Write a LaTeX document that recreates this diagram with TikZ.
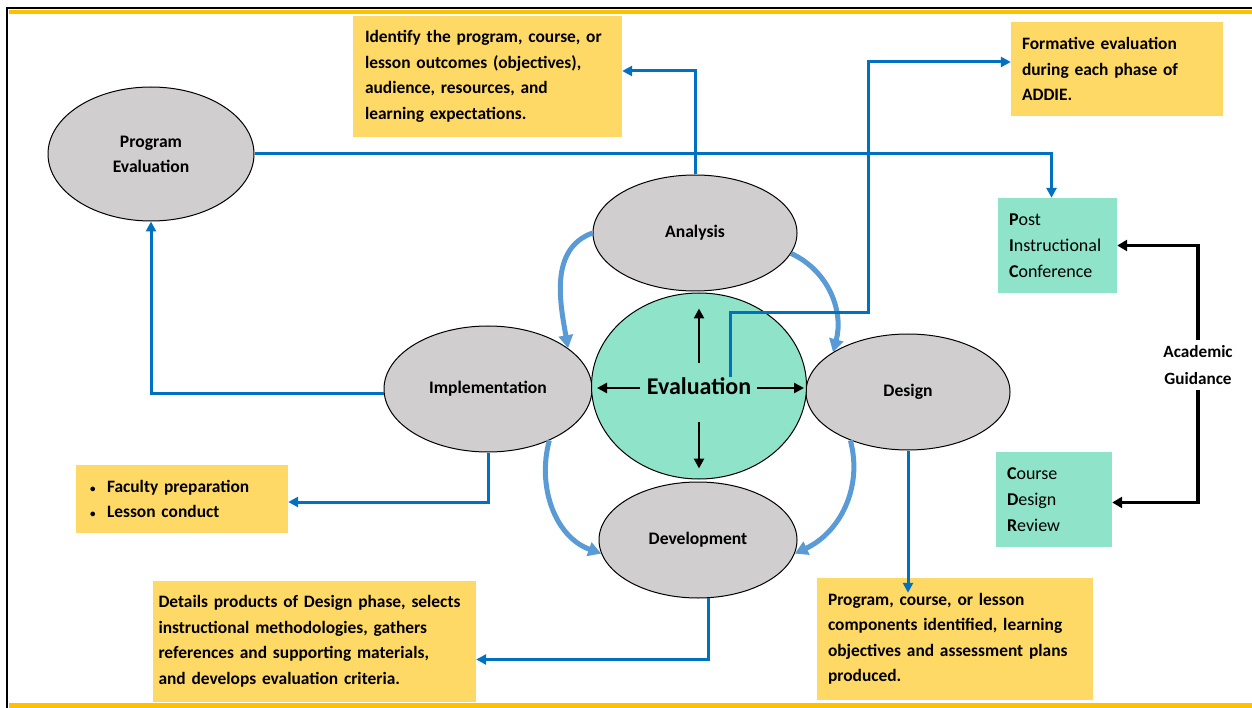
\documentclass[tikz,border=0pt]{standalone}
\usepackage{fontspec}
\setmainfont{Carlito}
\usetikzlibrary{shapes.geometric,arrows.meta}

\definecolor{phasegray}{HTML}{D0CECE}
\definecolor{evalgreen}{HTML}{8EE3C8}
\definecolor{noteyellow}{HTML}{FFD966}
\definecolor{linkblue}{HTML}{0070C0}
\definecolor{cycleblue}{HTML}{5B9BD5}
\definecolor{framegold}{HTML}{FFC000}

\begin{document}
\begin{tikzpicture}[x=1pt,y=-1pt,
    link/.style={draw=linkblue,line width=3pt,-{Triangle[length=10pt,width=10pt]}},
    cyclelink/.style={draw=cycleblue,line width=5pt,-{Triangle[length=13pt,width=14pt]}},
    guidelink/.style={draw=black,line width=3.2pt,-{Triangle[length=10pt,width=11pt]}},
    evalarrow/.style={draw=black,line width=2.8pt,-{Triangle[length=10pt,width=10pt]}},
    notebox/.style={fill=noteyellow,align=left,inner sep=0pt,font=\fontsize{17.4}{25.5}\selectfont\bfseries},
    reviewbox/.style={fill=evalgreen,align=left,inner sep=0pt,font=\fontsize{18}{26}\selectfont}]

      \useasboundingbox (0,0) rectangle (1252,708);

      % frame
      \draw[line width=1.8pt] (7,708) -- (7,8) -- (1252,8);
      \fill[framegold] (8.5,10) rectangle (1252,14);
      \fill[framegold] (8.5,703) rectangle (1252,708);

      \begin{scope}[every node/.style={ellipse,draw,line width=1pt,fill=phasegray,inner sep=0pt,
          align=center,font=\fontsize{17.6}{25}\selectfont\bfseries}]
        \node[minimum width=206,minimum height=134] (progeval) at (151,154) {Program\\Evaluation};
        \node[minimum width=204,minimum height=116] (analysis) at (695,233) {Analysis};
        \node[minimum width=208,minimum height=126] (implementation) at (488,389) {Implementation};
        \node[minimum width=204,minimum height=116] (design) at (908,392) {Design};
        \node[minimum width=198,minimum height=116] (development) at (698,540) {Development};
        \node[fill=evalgreen,minimum width=215,minimum height=186] (evaluation) at (699,386) {};
      \end{scope}

      \node[font=\fontsize{24}{28}\selectfont\bfseries] (evaltext) at (evaluation) {Evaluation};

      \begin{scope}[every node/.style={notebox}]
        \node[minimum width=269,minimum height=121,text width=245] (analysisnote) at (487.5,76.5)
          {Identify the program, course, or\\lesson outcomes (objectives),\\audience, resources, and\\learning expectations.};
        \node[minimum width=212,minimum height=94,text width=190] (formative) at (1117,69)
          {Formative evaluation\\during each phase of\\ADDIE.};
        \node[minimum width=212,minimum height=68,text width=184] (faculty) at (182,499)
          {\makebox[17pt][l]{\fontsize{11}{11}\selectfont\textbullet}Faculty preparation\\\makebox[17pt][l]{\fontsize{11}{11}\selectfont\textbullet}Lesson conduct};
        \node[minimum width=323,minimum height=121,text width=312] (devnote) at (314.5,641.5)
          {Details products of Design phase, selects\\instructional methodologies, gathers\\references and supporting materials,\\and develops evaluation criteria.};
        \node[minimum width=276,minimum height=122,text width=254] (designnote) at (955,639)
          {Program, course, or lesson\\components identified, learning\\objectives and assessment plans\\produced.};
      \end{scope}

      \begin{scope}[every node/.style={reviewbox}]
        \node[minimum width=119,minimum height=95,text width=97] (postconf) at (1057.5,245.5)
          {\textbf{P}ost\\\textbf{I}nstructional\\\textbf{C}onference};
        \node[minimum width=116,minimum height=95,text width=94] (coursereview) at (1054,499.5)
          {\textbf{C}ourse\\\textbf{D}esign\\\textbf{R}eview};
      \end{scope}

      \node[align=center,font=\fontsize{17.2}{27}\selectfont\bfseries,inner sep=5pt] (guidance) at (1198,365)
        {Academic\\Guidance};

      % ADDIE cycle
      \draw[cyclelink] (analysis.west) to[out=200,in=100] (implementation.27);
      \draw[cyclelink] (analysis.-12) to[out=-25,in=75] (design.152);
      \draw[cyclelink] (implementation.-40) to[out=-105,in=160] (development.188);
      \draw[cyclelink] (design.220) to[out=-75,in=25] (development.-8);

      % evaluation arrows
      \draw[evalarrow] (evaluation.center) ++(0,-23) -- ([yshift=-16pt]evaluation.north);
      \draw[evalarrow] (evaluation.center) ++(0,36) -- ([yshift=11pt]evaluation.south);
      \draw[evalarrow] (evaluation.center) ++(-59,2) -- ([xshift=6pt,yshift=-2pt]evaluation.west);
      \draw[evalarrow] (evaluation.center) ++(58,2) -- ([xshift=-3pt,yshift=-2pt]evaluation.east);

      % phase outputs
      \coordinate (evalstart) at (730,377);
      \coordinate (evalturn) at (868,313);
      \draw[link] (analysis.north) |- ([yshift=5.5pt]analysisnote.east);
      \draw[link] (evalstart) |- (evalturn) |- ([yshift=7pt]formative.west);
      \draw[link] (progeval.east) -| ([xshift=-6pt]postconf.north);
      \draw[link] ([yshift=-4pt]implementation.west) -| (progeval.south);
      \draw[link] (implementation.south) |- ([yshift=-3pt]faculty.east);
      \draw[link] (development.-80) |- ([yshift=-18pt]devnote.east);
      \draw[link] (design.south) -- ([yshift=-15pt]design.south |- designnote.north);

      % academic guidance
      \draw[guidelink] (guidance.north) |- (postconf.east);
      \draw[guidelink] (guidance.south) |- ([yshift=-3pt]coursereview.east);

    \end{tikzpicture}
\end{document}
